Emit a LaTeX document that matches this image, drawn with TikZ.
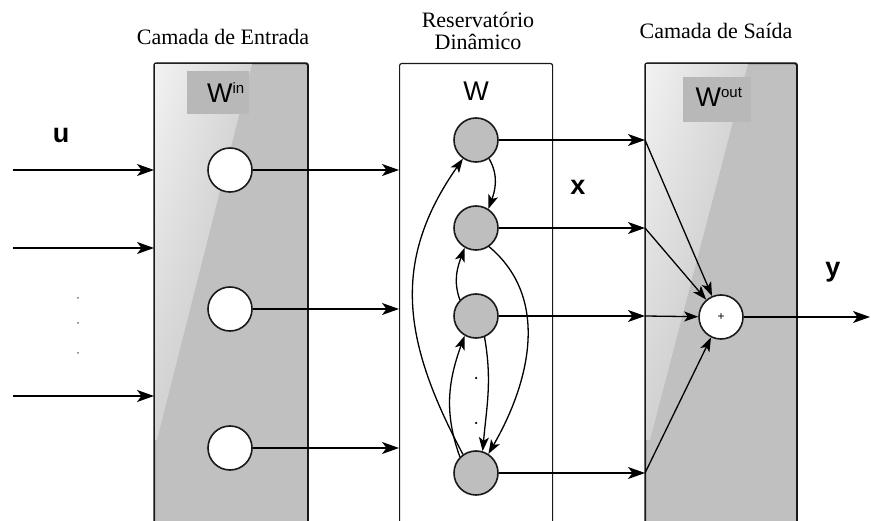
\documentclass[tikz,border=0pt]{standalone}
\usepackage{fontspec}
\setmainfont{Liberation Serif}
\newfontfamily\sansf{Liberation Sans}
\usetikzlibrary{arrows.meta,shadings}
\definecolor{boxgray}{RGB}{192,192,192}
\definecolor{lblgray}{RGB}{184,184,184}
\definecolor{nodegray}{RGB}{190,190,190}
\tikzset{
  arr/.style={line width=1.4pt,-{Stealth[length=17pt,width=12pt,inset=4.5pt]}},
  arrs/.style={line width=1.3pt,-{Stealth[length=14pt,width=10pt,inset=3.5pt]}},
  layerbox/.style={draw=black!90,line width=1.2pt,fill=boxgray,rounded corners=2pt,minimum width=#1,anchor=north west,minimum height=480pt,inner sep=0pt},
  inneuron/.style={circle,draw=black!90,line width=1.6pt,fill=white,minimum size=44pt,inner sep=0pt},
  resneuron/.style={circle,draw=black!90,line width=1.6pt,fill=nodegray,minimum size=44pt,inner sep=0pt},
  title/.style={font=\fontsize{22}{22}\selectfont,align=center,inner sep=0pt},
  biglbl/.style={font=\sansf\bfseries\fontsize{27}{28}\selectfont,inner sep=0pt},
  wlbl/.style={font=\sansf\fontsize{27}{28}\selectfont,inner sep=0pt},
  lblrect/.style={fill=lblgray,inner sep=0pt,anchor=north west},
  smalldot/.style={circle,fill=black,inner sep=0pt,minimum size=2.5pt},
  glare/.style={upper left=black!5, upper right=black!17, lower left=black!18, lower right=black!25}
}
\begin{document}
\begin{tikzpicture}[x=1pt,y=-1pt]
\useasboundingbox (0,0) rectangle (871,521);
\clip (0,0) rectangle (871,521);
\fill[white] (0,0) rectangle (871,521);
% titles
\node[title] (t1) at (223,37) {Camada de Entrada};
\node[title] (t2) at (478,31) {Reservat\'orio\\Din\^amico};
\node[title] (t3) at (716,31) {Camada de Sa\'ida};
% boxes
\node[layerbox=153pt] (inbox) at (154,63) {};
\shade[glare] (155,64) -- (252,64) -- (157,440) -- (155,440) -- cycle;
\draw[black!90,line width=1.2pt,rounded corners=2pt] (inbox.south west) -- (inbox.north west) -- (inbox.north east) -- (inbox.south east);
\node[layerbox=153pt,fill=white] (resbox) at (399,63) {};
\node[layerbox=151pt] (outbox) at (645,63) {};
\shade[glare] (646,64) -- (748,64) -- (650,440) -- (646,440) -- cycle;
\draw[black!90,line width=1.2pt,rounded corners=2pt] (outbox.south west) -- (outbox.north west) -- (outbox.north east) -- (outbox.south east);
% weight labels
\node[lblrect,minimum width=62pt,minimum height=43pt] (winrect) at (187,71) {};
\node[wlbl] (win) at (226,93) {W\textsuperscript{\fontsize{15}{16}\selectfont in}};
\node[lblrect,minimum width=68pt,minimum height=45pt] (woutrect) at (683,77) {};
\node[wlbl] (wout) at (719,97) {W\textsuperscript{\fontsize{15}{16}\selectfont out}};
\node[wlbl] (wres) at (476,91) {W};
% labels
\node[biglbl] (ulbl) at (61,136) {u};
\node[biglbl] (xlbl) at (578,187) {x};
\node[biglbl] (ylbl) at (833,272) {y};
% input arrows
\coordinate (s1) at (13,170);
\coordinate (s2) at (13,248);
\coordinate (s3) at (13,396);
\draw[arr] (s1) -- (s1 -| inbox.west);
\draw[arr] (s2) -- (s2 -| inbox.west);
\draw[arr] (s3) -- (s3 -| inbox.west);
\node[circle,fill=black!55,inner sep=0pt,minimum size=2pt] (d1) at (78,298) {};
\node[circle,fill=black!55,inner sep=0pt,minimum size=2pt] (d2) at (78,323) {};
\node[circle,fill=black!55,inner sep=0pt,minimum size=2pt] (d3) at (78,353) {};
% input neurons
\node[inneuron] (in1) at (230,170) {};
\node[inneuron] (in2) at (230,309) {};
\node[inneuron] (in3) at (230,448) {};
\draw[arr] (in1) -- (in1 -| resbox.west);
\draw[arr] (in2) -- (in2 -| resbox.west);
\draw[arr] (in3) -- (in3 -| resbox.west);
% reservoir neurons
\node[resneuron] (r1) at (476,140) {};
\node[resneuron] (r2) at (476,228) {};
\node[resneuron] (r3) at (476,316) {};
\node[resneuron] (r4) at (476,473) {};
\node[smalldot] (rd1) at (476,378) {};
\node[smalldot] (rd2) at (476,423) {};
% recurrent connections
\draw[arrs] (r1.-55) to[out=-60,in=70] (r2.57);
\draw[arrs] (r3.135) to[out=110,in=-110] (r2.-120);
\draw[arrs] (r2.-55) to[out=-40,in=60] (r4.57);
\draw[arrs] (r3.-68) to[out=-80,in=85] (r4.73);
\draw[arrs] (r4.135) to[out=110,in=-110] (r3.-120);
\draw[arrs] (r4.125) to[out=118,in=-125,looseness=1.1] (r1.-125);
% reservoir to output
\coordinate (o1) at (r1 -| outbox.west);
\coordinate (o2) at (r2 -| outbox.west);
\coordinate (o3) at (r3 -| outbox.west);
\coordinate (o4) at (r4 -| outbox.west);
\draw[arr] (r1) -- (o1);
\draw[arr] (r2) -- (o2);
\draw[arr] (r3) -- (o3);
\draw[arr] (r4) -- (o4);
% summation
\node[inneuron,font=\sansf\fontsize{12}{12}\selectfont] (sum) at (721,317) {+};
\draw[arrs] (o1) -- (sum);
\draw[arrs] (o2) -- (sum);
\draw[arrs] (o3) -- (sum);
\draw[arrs] (o4) -- (sum);
\coordinate (yend) at (870,317);
\draw[arr] (sum) -- (yend);
\end{tikzpicture}
\end{document}
